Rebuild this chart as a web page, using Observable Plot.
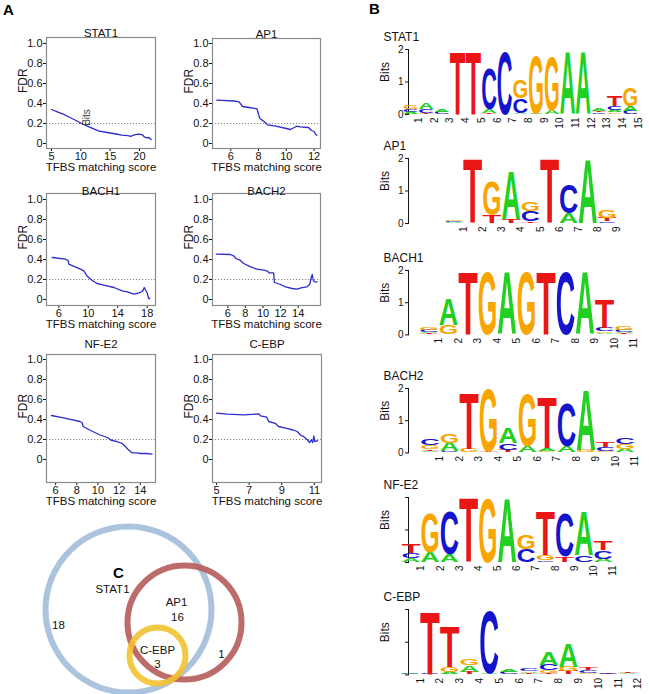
<!DOCTYPE html>
<html><head><meta charset="utf-8">
<script src="https://cdn.jsdelivr.net/npm/d3@7"></script>
<script src="https://cdn.jsdelivr.net/npm/@observablehq/plot@0.6"></script>
<style>
body{margin:0;background:#fff;}
#root{position:relative;width:649px;height:694px;overflow:hidden;font-family:"Liberation Sans",Arial,sans-serif;background:#fff;}
.plab{position:absolute;font-weight:bold;font-size:15px;line-height:15px;color:#000;}
</style></head><body><div id="root"></div>
<script>
// ---------- Panel A data (FDR vs TFBS matching score) ----------
const stat1X = [5,6,7,8,9,10,11,12,13,14,15,16,17,18,18.5,19,19.5,20,20.5,20.8,21.3,21.6,22];
const stat1Y = [0.34,0.317,0.293,0.265,0.235,0.205,0.177,0.152,0.127,0.115,0.105,0.095,0.083,0.078,0.072,0.083,0.092,0.093,0.087,0.067,0.057,0.06,0.04];
const ap1X = [5,6.25,6.6,6.85,7.3,7.9,8.0,8.1,8.4,8.65,9.25,10.0,10.3,10.75,11.0,11.6,11.8,12.0,12.1,12.2];
const ap1Y = [0.433,0.425,0.417,0.37,0.36,0.347,0.29,0.25,0.22,0.187,0.173,0.15,0.14,0.173,0.167,0.16,0.13,0.12,0.093,0.083];
const bach1X = [5.1,6.9,7.27,7.36,8.94,9.4,9.85,10.5,11.2,12.1,13.5,14.6,15.3,16.2,16.9,17.3,17.5,17.6,17.8,18.0,18.2,18.35];
const bach1Y = [0.42,0.403,0.39,0.353,0.303,0.287,0.233,0.193,0.16,0.143,0.12,0.087,0.077,0.053,0.067,0.08,0.1,0.12,0.093,0.067,0.01,0.01];
const bach2X = [4.7,6.3,6.7,6.9,7.4,7.8,8.6,9.3,10.1,10.5,10.7,11.2,11.3,12.0,12.55,13.3,13.9,14.3,15.0,15.3,15.5,15.6,15.7,15.85,16.15];
const bach2Y = [0.453,0.45,0.433,0.41,0.393,0.36,0.327,0.303,0.293,0.283,0.267,0.267,0.17,0.15,0.127,0.11,0.103,0.117,0.127,0.15,0.227,0.25,0.193,0.177,0.177];
const nfe2X = [5.6,6.4,7.3,8.3,8.5,8.6,9.3,10.2,10.9,11.2,11.8,12.3,12.6,12.9,13.2,13.7,14.0,14.6,15.1];
const nfe2Y = [0.44,0.424,0.403,0.38,0.37,0.33,0.29,0.245,0.22,0.195,0.178,0.16,0.128,0.094,0.067,0.067,0.06,0.06,0.054];
const cebpX = [5.0,5.65,6.67,7.6,7.7,8.07,8.2,8.6,8.8,9.3,9.7,9.95,10.15,10.35,10.56,10.7,10.8,10.9,10.97,11.03,11.2];
const cebpY = [0.463,0.453,0.446,0.456,0.436,0.423,0.38,0.362,0.33,0.312,0.295,0.28,0.245,0.228,0.2,0.168,0.195,0.168,0.235,0.178,0.188];
const fdrTicks = [0,0.2,0.4,0.6,0.8,1.0];
const fdrThreshold = [0.2];

// ---------- Panel B data (sequence logos, bottom -> top, letter + bits) ----------
const stat1Logo = ["A.06 C.08 G.1","T.04 C.12 A.22","C.06 A.08","T1.98","T1.98","T.04 A.1 C1.26","C1.98","A.04 C.44 G.58","A.04 G1.8","A.12 G1.7","A1.98","A1.98","C.05 T.04 A.07","G.05 A.08 C.13 T.34","C.1 A.16 G.57"];
const ap1Logo = ["A.04 C.03 G.05","T2","T.26 G1.07","T.12 A1.52","T.05 C.31 G.28","T2","A.31 C.9","A2","C.05 T.1 G.26"];
const bach1Logo = ["T.04 A.04 C.06 G.08","G.28 A.82","T2","G2","A2","G2","T2","C2","A2","A.04 G.05 C.12 T.9","T.03 A.05 C.07 G.1"];
const bach2Logo = ["A.05 T.05 G.12 C.2","C.03 A.27 G.27","G.12 T1.78","T.03 G1.99","T.08 C.21 A.5","A.2 G1.64","G.05 A.08 T1.63","A.2 C1.38","G.08 A1.92","G.04 C.13 T.17","A.1 G.17 C.21"];
const nfe2Logo = ["A.13 C.15 T.3","A.31 G1.23","A.26 C1.35","T2","G2","A2","C.41 G.46","C.05 G.15 T1.39","T.17 C1.37","C.2 A1.39","A.1 C.26 T.29"];
const cebpLogo = ["C.02 A.03","C.02 T1.98","A.06 G.17 T1.27","T.08 A.2 G.18","A.03 C1.97","C.06 A.08","T.04 A.05 C.08","T.04 G.08 C.18 A.42","T.1 G.14 A.73","G.05 C.08 T.08","T.02 C.03","A.05 T.05"];
const bitTicks = [0,1,2];

// ---------- Panel C data (Venn) ----------
const vennSets = ["STAT1","AP1","C-EBP"];
const vennCX = [98,154,127];
const vennCY = [94,107,140];
const vennR = [83,57,28];
const vennLabels = ["STAT1","18","AP1","16","C-EBP","3","1"];
const vennLX = [82,28,146,147,127,127,191];
const vennLY = [74,110,87,102,135,149,139];

// ---------- helpers ----------
const root = document.getElementById("root");
const NS = "http://www.w3.org/2000/svg";
const FONT = "Liberation Sans, Arial, sans-serif";
function place(el, left, top){
  el.style.position = "absolute";
  el.style.left = left + "px";
  el.style.top = top + "px";
  el.style.background = "transparent";
  el.style.overflow = "visible";
  el.style.maxWidth = "none";
  root.appendChild(el);
}
function label(text, left, top){
  const d = document.createElement("div");
  d.className = "plab"; d.textContent = text;
  d.style.left = left + "px"; d.style.top = top + "px";
  root.appendChild(d);
}

// ---------- Panel A ----------
const fdrPanels = [
  {name:"STAT1", xs:stat1X, ys:stat1Y, frame:[46,37,155,148], xdom:[4.15,22.73], xticks:[5,10,15,20], ydom:[-0.05,1.06], tdy:-9, extra:[{x:10.95,y:0.26,t:"Bits"}]},
  {name:"AP1", xs:ap1X, ys:ap1Y, frame:[212,38,320,148], xdom:[4.69,12.46], xticks:[6,8,10,12], ydom:[-0.05,1.05], tdy:-9},
  {name:"BACH1", xs:bach1X, ys:bach1Y, frame:[46,193,155,305], xdom:[4.33,19.13], xticks:[6,10,14,18], ydom:[-0.06,1.06], tdy:-7},
  {name:"BACH2", xs:bach2X, ys:bach2Y, frame:[212,193,320,305], xdom:[4.26,16.53], xticks:[6,8,10,12,14], ydom:[-0.06,1.06], tdy:-7},
  {name:"NF-E2", xs:nfe2X, ys:nfe2Y, frame:[46,354,155,482], xdom:[5.14,15.43], xticks:[6,8,10,12,14], ydom:[-0.23,1.05], tdy:-15},
  {name:"C-EBP", xs:cebpX, ys:cebpY, frame:[212,354,321,482], xdom:[4.75,11.44], xticks:[5,7,9,11], ydom:[-0.23,1.05], tdy:-15}
];
for (const p of fdrPanels){
  const [l,t,r,b] = p.frame;
  const ML=46, MT=24, MR=6, MB=32;
  const data = p.xs.map((x,i)=>({x, y:p.ys[i]}));
  const marks = [
    Plot.frame({stroke:"#8a8a8a", strokeWidth:1.2}),
    Plot.ruleY(fdrThreshold, {stroke:"#777", strokeDasharray:"1.2,1.8", strokeWidth:0.9}),
    Plot.line(data, {x:"x", y:"y", stroke:"#2c2ccf", strokeWidth:1.3}),
    Plot.text([p.name], {frameAnchor:"top", dy:p.tdy, fontSize:11.5, fill:"#111"}),
    Plot.text(["FDR"], {frameAnchor:"left", dx:-23, rotate:-90, fontSize:12, fill:"#111"}),
    Plot.text(["TFBS matching score"], {frameAnchor:"bottom", dy:22, fontSize:11.5, fill:"#111"})
  ];
  if (p.extra) marks.push(Plot.text(p.extra, {x:"x", y:"y", text:"t", rotate:-90, fontSize:10, fill:"#444"}));
  const svg = Plot.plot({
    width:(r-l)+ML+MR, height:(b-t)+MT+MB,
    marginLeft:ML, marginTop:MT, marginRight:MR, marginBottom:MB,
    style:{fontFamily:FONT, fontSize:"11px", color:"#111", background:"transparent", overflow:"visible"},
    x:{domain:p.xdom, ticks:p.xticks, tickFormat:d=>String(d), tickSize:3, tickPadding:1, label:null},
    y:{domain:p.ydom, ticks:fdrTicks, tickFormat:d=> d===0 ? "0" : d.toFixed(1), tickSize:3, tickPadding:1, label:null},
    marks
  });
  place(svg, l-ML, t-MT);
}

// ---------- Panel B ----------
const LETTER_COLOR = {A:"#22d022", C:"#1414cc", G:"#f8a500", T:"#ea1616"};
function parseCol(s){ return s.split(" ").map(tok=>({b:tok[0], h:+tok.slice(1)})); }
function letterMark(letters){
  return (index, scales) => {
    const g = document.createElementNS(NS, "g");
    for (const L of letters){
      const x0 = scales.x(L.pos-0.5), x1 = scales.x(L.pos+0.5);
      const yb = scales.y(L.y1), yt = scales.y(L.y2);
      const h = yb - yt;
      if (h < 0.4) continue;
      const t = document.createElementNS(NS, "text");
      t.setAttribute("x", 0); t.setAttribute("y", 0);
      t.setAttribute("font-size", 100);
      t.setAttribute("font-weight", "bold");
      t.setAttribute("font-family", FONT);
      t.setAttribute("textLength", (x1-x0).toFixed(2));
      t.setAttribute("lengthAdjust", "spacingAndGlyphs");
      t.setAttribute("fill", LETTER_COLOR[L.b]);
      t.setAttribute("transform", `translate(${x0.toFixed(2)},${yb.toFixed(2)}) scale(1,${(h/72).toFixed(4)})`);
      t.textContent = L.b;
      g.appendChild(t);
    }
    return g;
  };
}
const logos = [
  {name:"STAT1", cols:stat1Logo, colStart:410.5, colW:15.7, axisX:408, y0:114.3, ppb:32.5, labels:true},
  {name:"AP1", cols:ap1Logo, colStart:453.5, colW:19.2, axisX:408, y0:223.3, ppb:32.5, labels:true},
  {name:"BACH1", cols:bach1Logo, colStart:429, colW:19.5, axisX:408, y0:334.3, ppb:32.2, labels:true},
  {name:"BACH2", cols:bach2Logo, colStart:430, colW:19.5, axisX:408, y0:452.7, ppb:32.2, labels:true},
  {name:"NF-E2", cols:nfe2Logo, colStart:411, colW:19.2, axisX:408, y0:561.7, ppb:32.5, labels:false},
  {name:"C-EBP", cols:cebpLogo, colStart:410, colW:19.8, axisX:408, y0:674.3, ppb:32.7, labels:false}
];
for (const lg of logos){
  const n = lg.cols.length, ymax = 2;
  const left = 340;
  const ML = lg.axisX - left, MT = 24, MB = 20, MR = 4;
  const plotW = lg.colStart + n*lg.colW - lg.axisX;
  const letters = [];
  lg.cols.forEach((s,i)=>{
    let acc = 0;
    for (const {b,h} of parseCol(s)){ letters.push({pos:i+1, b, y1:acc, y2:acc+h}); acc += h; }
  });
  const svg = Plot.plot({
    width: ML+plotW+MR, height: MT + ymax*lg.ppb + MB,
    marginLeft:ML, marginTop:MT, marginBottom:MB, marginRight:MR,
    style:{fontFamily:FONT, fontSize:"10px", color:"#111", background:"transparent", overflow:"visible"},
    x:{domain:[0.5-(lg.colStart-lg.axisX)/lg.colW, n+0.5], ticks:d3.range(1,n+1), tickFormat:d=>String(d), tickRotate:-90, tickSize:0, tickPadding:3, label:null},
    y:{domain:[0,ymax], ticks:bitTicks, tickFormat: lg.labels ? (d=>String(d)) : (()=>""), tickSize:3, tickPadding:2, line:true, label:null},
    marks:[
      letterMark(letters),
      Plot.text([lg.name], {frameAnchor:"top-left", textAnchor:"start", dx:383-lg.axisX, dy:-17, fontSize:12, fill:"#111"}),
      Plot.text(["Bits"], {frameAnchor:"left", dx:385-lg.axisX, rotate:-90, fontSize:12, fill:"#111"})
    ]
  });
  place(svg, left, lg.y0 - ymax*lg.ppb - MT);
}

// ---------- Panel C (Venn) ----------
{
  const W = 240, H = 179;
  const circles = vennSets.map((s,i)=>({set:s, x:vennCX[i], y:vennCY[i], r:vennR[i]}));
  const texts = vennLabels.map((s,i)=>({t:s, x:vennLX[i], y:vennLY[i]}));
  const svg = Plot.plot({
    width:W, height:H, margin:0,
    style:{fontFamily:FONT, fontSize:"11.5px", color:"#111", background:"transparent", overflow:"visible"},
    x:{domain:[0,W], range:[0,W], axis:null},
    y:{domain:[0,H], range:[0,H], axis:null},
    r:{type:"linear", domain:[0,100], range:[0,100]},
    color:{domain:vennSets, range:["#a3bcda","#b65c5c","#f2c230"]},
    marks:[
      Plot.dot(circles, {x:"x", y:"y", r:"r", stroke:"set", strokeWidth:6, strokeOpacity:0.9, fill:"none"}),
      Plot.text(texts, {x:"x", y:"y", text:"t", fontSize:11.5, fill:"#111"})
    ]
  });
  place(svg, 30, 515);
}

// ---------- panel letters ----------
label("A", 3, 2);
label("B", 369, 1);
label("C", 113, 565);
</script>
</body></html>
